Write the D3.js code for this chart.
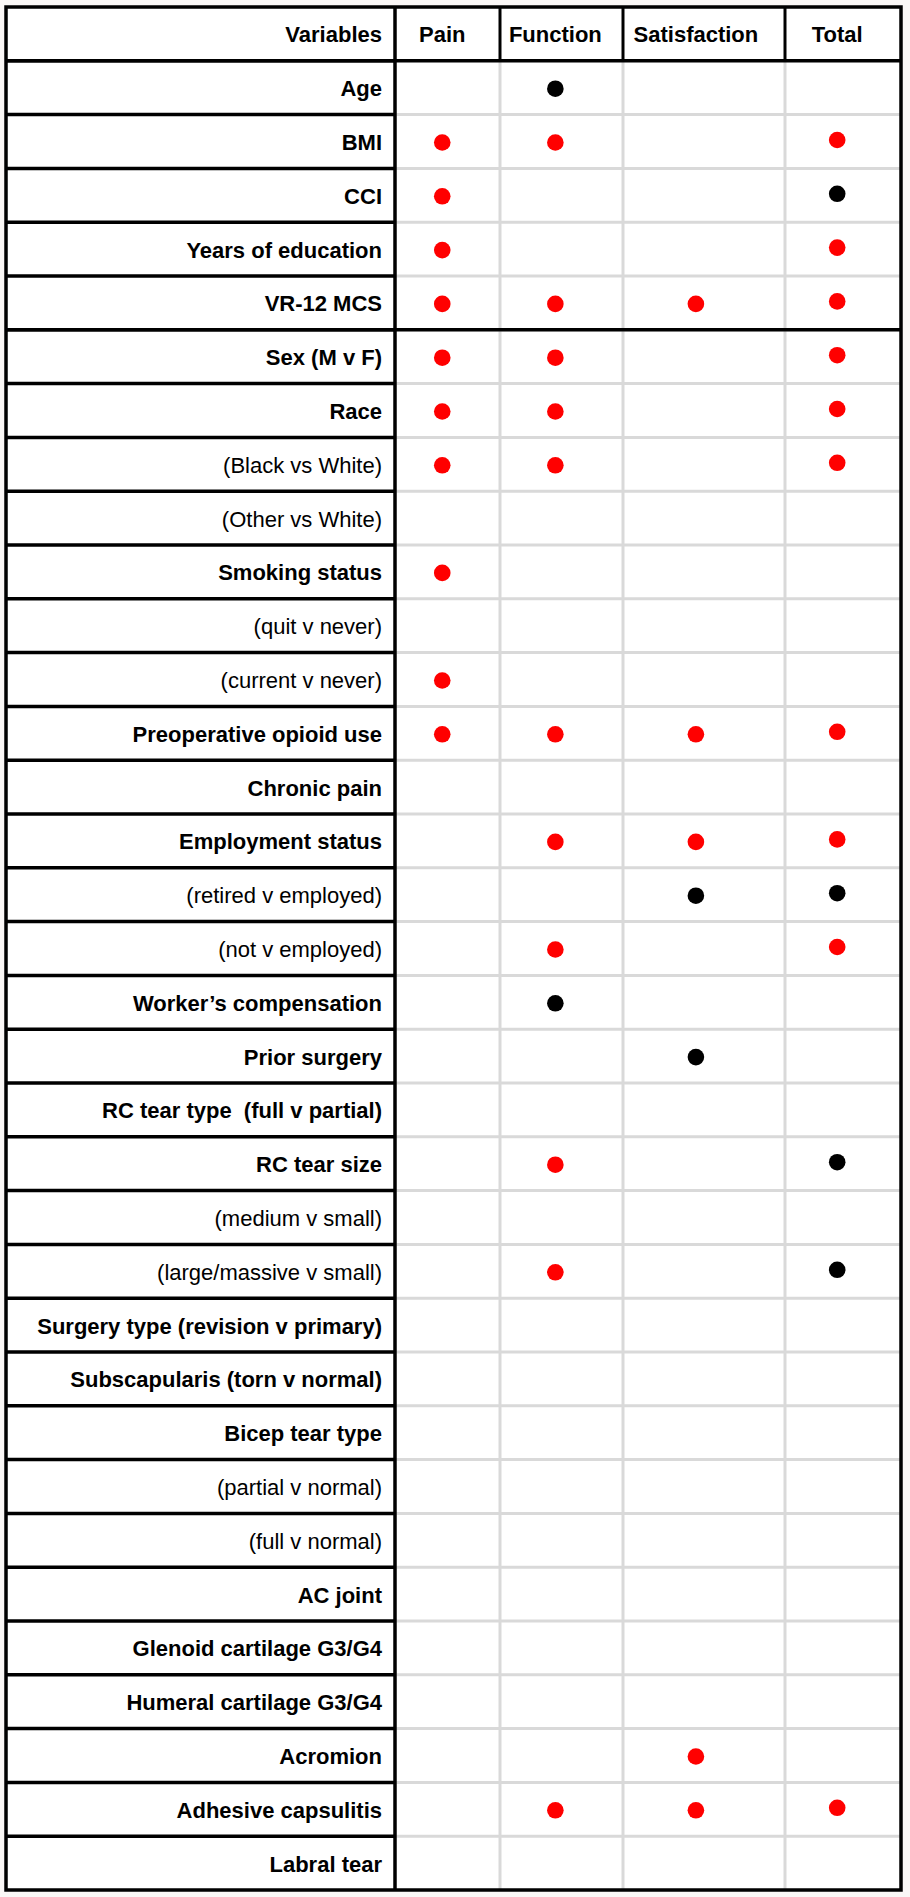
<!DOCTYPE html>
<html>
<head>
<meta charset="utf-8">
<script src="https://cdn.jsdelivr.net/npm/d3@7"></script>
<style>
  html, body { margin: 0; padding: 0; background: #faf7f6; }
  svg { display: block; }
</style>
</head>
<body>
<svg id="chart" width="910" height="1897"></svg>
<script>
// ---------------- DATA ----------------
const headerLabel = "Variables";
const columns = ["Pain", "Function", "Satisfaction", "Total"];

const variables = [
  "Age", "BMI", "CCI", "Years of education", "VR-12 MCS",
  "Sex (M v F)", "Race", "(Black vs White)", "(Other vs White)",
  "Smoking status", "(quit v never)", "(current v never)",
  "Preoperative opioid use", "Chronic pain", "Employment status",
  "(retired v employed)", "(not v employed)", "Worker\u2019s compensation",
  "Prior surgery", "RC tear type  (full v partial)", "RC tear size",
  "(medium v small)", "(large/massive v small)",
  "Surgery type (revision v primary)", "Subscapularis (torn v normal)",
  "Bicep tear type", "(partial v normal)", "(full v normal)", "AC joint",
  "Glenoid cartilage G3/G4", "Humeral cartilage G3/G4", "Acromion",
  "Adhesive capsulitis", "Labral tear"
];

// "R" = red dot, "B" = black dot, "" = none (one entry per variable)
const painSig = ["", "R", "R", "R", "R", "R", "R", "R", "", "R", "", "R", "R", "", "", "", "", "", "", "", "", "", "", "", "", "", "", "", "", "", "", "", "", ""];
const functionSig = ["B", "R", "", "", "R", "R", "R", "R", "", "", "", "", "R", "", "R", "", "R", "B", "", "", "R", "", "R", "", "", "", "", "", "", "", "", "", "R", ""];
const satisfactionSig = ["", "", "", "", "R", "", "", "", "", "", "", "", "R", "", "R", "B", "", "", "B", "", "", "", "", "", "", "", "", "", "", "", "", "R", "R", ""];
const totalSig = ["", "R", "B", "R", "R", "R", "R", "R", "", "", "", "", "R", "", "R", "B", "R", "", "", "", "B", "", "B", "", "", "", "", "", "", "", "", "", "R", ""];

// ---------------- LAYOUT ----------------
const svg = d3.select("#chart");
const tLeft = 6, tRight = 901, tTop = 7, tBottom = 1890;
const varColRight = 395;
const colEdges = [varColRight, 500, 623, 785, tRight];
const BLACK = "#000", GRAY = "#d9d9d9";
const dotColor = { R: "#ff0000", B: "#000000" };
const font = "'Liberation Sans', Arial, sans-serif";
const fontSize = 22;

const isSub = v => v.startsWith("(");
const rowKeys = ["__header__", ...variables];
const y = d3.scaleBand().domain(rowKeys).range([tTop, tBottom]).padding(0);

const colLeft = d3.scaleOrdinal().domain(columns).range(colEdges.slice(0, 4));
const colWidth = c => colEdges[columns.indexOf(c) + 1] - colLeft(c);
const colX = c => colLeft(c) + colWidth(c) * 0.45;

// white table background
svg.append("rect").attr("x", tLeft).attr("y", tTop)
  .attr("width", tRight - tLeft).attr("height", tBottom - tTop).attr("fill", "#fff");

const grid = svg.append("g");

// gray horizontal lines in data columns (row boundaries)
variables.slice(0, -1).forEach(v => {
  const yy = y(v) + y.bandwidth();
  grid.append("line").attr("x1", varColRight).attr("x2", tRight)
    .attr("y1", yy).attr("y2", yy).attr("stroke", GRAY).attr("stroke-width", 3);
});
// gray vertical column dividers in body
colEdges.slice(1, 4).forEach(x => {
  grid.append("line").attr("x1", x).attr("x2", x)
    .attr("y1", y(variables[0])).attr("y2", tBottom)
    .attr("stroke", GRAY).attr("stroke-width", 3);
});
// black vertical dividers in header
colEdges.slice(1, 4).forEach(x => {
  grid.append("line").attr("x1", x).attr("x2", x)
    .attr("y1", tTop).attr("y2", y(variables[0]))
    .attr("stroke", BLACK).attr("stroke-width", 3);
});
// black horizontal lines in variables column
variables.forEach(v => {
  const yy = y(v);
  grid.append("line").attr("x1", tLeft).attr("x2", varColRight)
    .attr("y1", yy).attr("y2", yy).attr("stroke", BLACK).attr("stroke-width", 3.5);
});
// full-width black lines: header bottom and between VR-12 MCS and Sex
[y(variables[0]), y("Sex (M v F)")].forEach(yy => {
  grid.append("line").attr("x1", tLeft).attr("x2", tRight)
    .attr("y1", yy).attr("y2", yy).attr("stroke", BLACK).attr("stroke-width", 3.5);
});
// variables column right border
grid.append("line").attr("x1", varColRight).attr("x2", varColRight)
  .attr("y1", tTop).attr("y2", tBottom).attr("stroke", BLACK).attr("stroke-width", 3.5);
// outer border
grid.append("rect").attr("x", tLeft).attr("y", tTop)
  .attr("width", tRight - tLeft).attr("height", tBottom - tTop)
  .attr("fill", "none").attr("stroke", BLACK).attr("stroke-width", 3.5);

// text
const textG = svg.append("g").attr("font-family", font).attr("font-size", fontSize)
  .attr("fill", "#000");
const baseOff = 8.5;
textG.append("text").attr("x", varColRight - 13)
  .attr("y", y("__header__") + y.bandwidth() / 2 + baseOff)
  .attr("text-anchor", "end").attr("font-weight", "bold")
  .text(headerLabel);
textG.selectAll("text.col").data(columns).join("text").attr("class", "col")
  .attr("x", d => colX(d)).attr("y", y("__header__") + y.bandwidth() / 2 + baseOff)
  .attr("text-anchor", "middle").attr("font-weight", "bold")
  .text(d => d);

textG.selectAll("text.var").data(variables).join("text").attr("class", "var")
  .attr("x", varColRight - 13).attr("y", d => y(d) + y.bandwidth() / 2 + baseOff)
  .attr("text-anchor", "end")
  .attr("font-weight", d => isSub(d) ? "normal" : "bold")
  .style("white-space", "pre")
  .text(d => d);

// dots
const series = { Pain: painSig, Function: functionSig, Satisfaction: satisfactionSig, Total: totalSig };
const dots = [];
columns.forEach(c => series[c].forEach((s, i) => {
  if (s) dots.push({ col: c, v: variables[i], s });
}));
svg.append("g").selectAll("circle").data(dots).join("circle")
  .attr("cx", d => colX(d.col))
  .attr("cy", d => y(d.v) + y.bandwidth() / 2 + (d.col === "Total" ? -1.5 : 1))
  .attr("r", 8.3)
  .attr("fill", d => dotColor[d.s]);
</script>
</body>
</html>
